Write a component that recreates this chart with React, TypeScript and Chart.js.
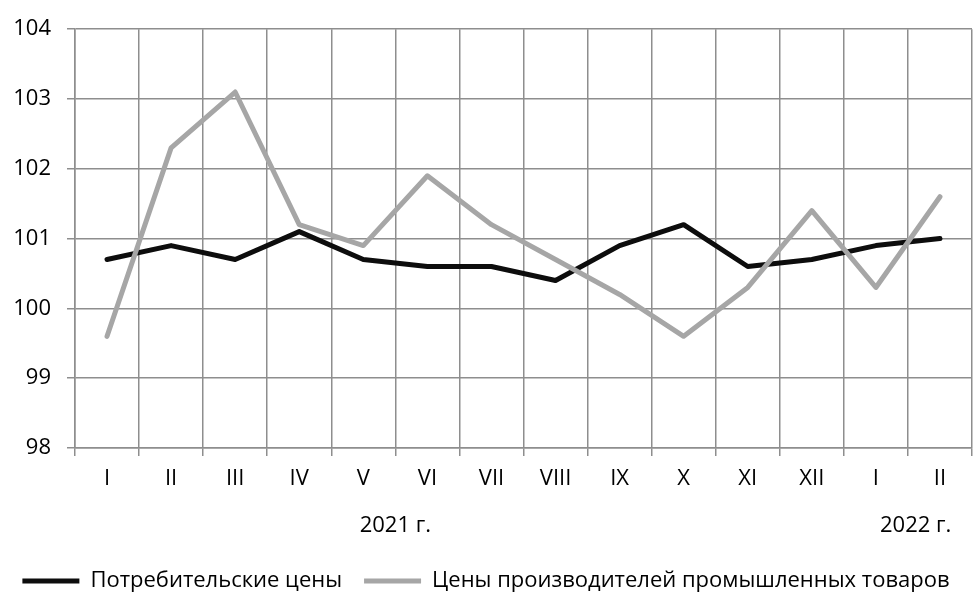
import React, { useEffect, useRef } from "react";
import { Chart, registerables } from "chart.js";

Chart.register(...registerables);

const months = ["I", "II", "III", "IV", "V", "VI", "VII", "VIII", "IX", "X", "XI", "XII", "I", "II"];
const consumerPrices = [100.7, 100.9, 100.7, 101.1, 100.7, 100.6, 100.6, 100.4, 100.9, 101.2, 100.6, 100.7, 100.9, 101.0];
const producerPrices = [99.6, 102.3, 103.1, 101.2, 100.9, 101.9, 101.2, 100.7, 100.2, 99.6, 100.3, 101.4, 100.3, 101.6];
const yearLabels = ["2021 г.", "2022 г."];
const yearAnchors = [4.5, 12.62];
const seriesNames = ["Потребительские цены", "Цены производителей промышленных товаров"];

const FONT = "'Open Sans', sans-serif";
const FS = 22;
const GRID = "#8e8e8e";

export default function App() {
  const ref = useRef<HTMLCanvasElement | null>(null);

  useEffect(() => {
    document.body.style.margin = "0";
    const canvas = ref.current;
    if (!canvas) return;

    const yearPlugin = {
      id: "yearLabels",
      afterDraw(chart: any) {
        const ctx = chart.ctx;
        const x = chart.scales.x;
        ctx.save();
        ctx.font = `${FS}px ${FONT}`;
        ctx.fillStyle = "#000";
        ctx.textAlign = "center";
        ctx.textBaseline = "middle";
        yearLabels.forEach((lab, i) => {
          ctx.fillText(lab, x.getPixelForValue(yearAnchors[i]), x.top + 78);
        });
        ctx.restore();
      },
    };

    const chart = new Chart(canvas, {
      type: "line",
      data: {
        labels: months,
        datasets: [
          {
            label: seriesNames[0],
            data: consumerPrices,
            borderColor: "#0d0d0d",
            backgroundColor: "#0d0d0d",
            borderWidth: 5,
            pointRadius: 0,
            tension: 0,
            borderJoinStyle: "round",
            borderCapStyle: "round",
            order: 1,
          },
          {
            label: seriesNames[1],
            data: producerPrices,
            borderColor: "#a6a6a6",
            backgroundColor: "#a6a6a6",
            borderWidth: 5,
            pointRadius: 0,
            tension: 0,
            borderJoinStyle: "round",
            borderCapStyle: "round",
            order: 0,
          },
        ],
      },
      options: {
        animation: false,
        responsive: false,
        maintainAspectRatio: false,
        layout: { padding: { top: 25, right: 3, left: 0, bottom: 2 } },
        plugins: {
          tooltip: { enabled: false },
          legend: {
            position: "bottom",
            labels: {
              usePointStyle: true,
              pointStyle: "line",
              pointStyleWidth: 57,
              color: "#000",
              padding: 22,
              font: { family: FONT, size: FS },
              sort: (a: any, b: any) => a.datasetIndex - b.datasetIndex,
            },
          },
        },
        scales: {
          x: {
            type: "category",
            offset: true,
            grid: {
              offset: true,
              color: GRID,
              lineWidth: 1.5,
              drawTicks: true,
              tickLength: 8,
            },
            border: { color: GRID, width: 1.5 },
            ticks: {
              color: "#000",
              font: { family: FONT, size: FS },
              padding: 10,
              maxRotation: 0,
              autoSkip: false,
            },
            afterFit(scale: any) {
              scale.height = 100;
            },
          },
          y: {
            min: 98,
            max: 104,
            grid: {
              color: GRID,
              lineWidth: 1.5,
              drawTicks: true,
              tickLength: 8,
            },
            border: { color: GRID, width: 1.5 },
            ticks: {
              stepSize: 1,
              color: "#000",
              font: { family: FONT, size: FS },
              padding: 16,
            },
            afterFit(scale: any) {
              scale.width = 75;
            },
          },
        },
      },
      plugins: [yearPlugin],
    });

    return () => chart.destroy();
  }, []);

  return (
    <div style={{ width: 975, height: 604 }}>
      <canvas ref={ref} width={975} height={604} style={{ display: "block" }} />
    </div>
  );
}
